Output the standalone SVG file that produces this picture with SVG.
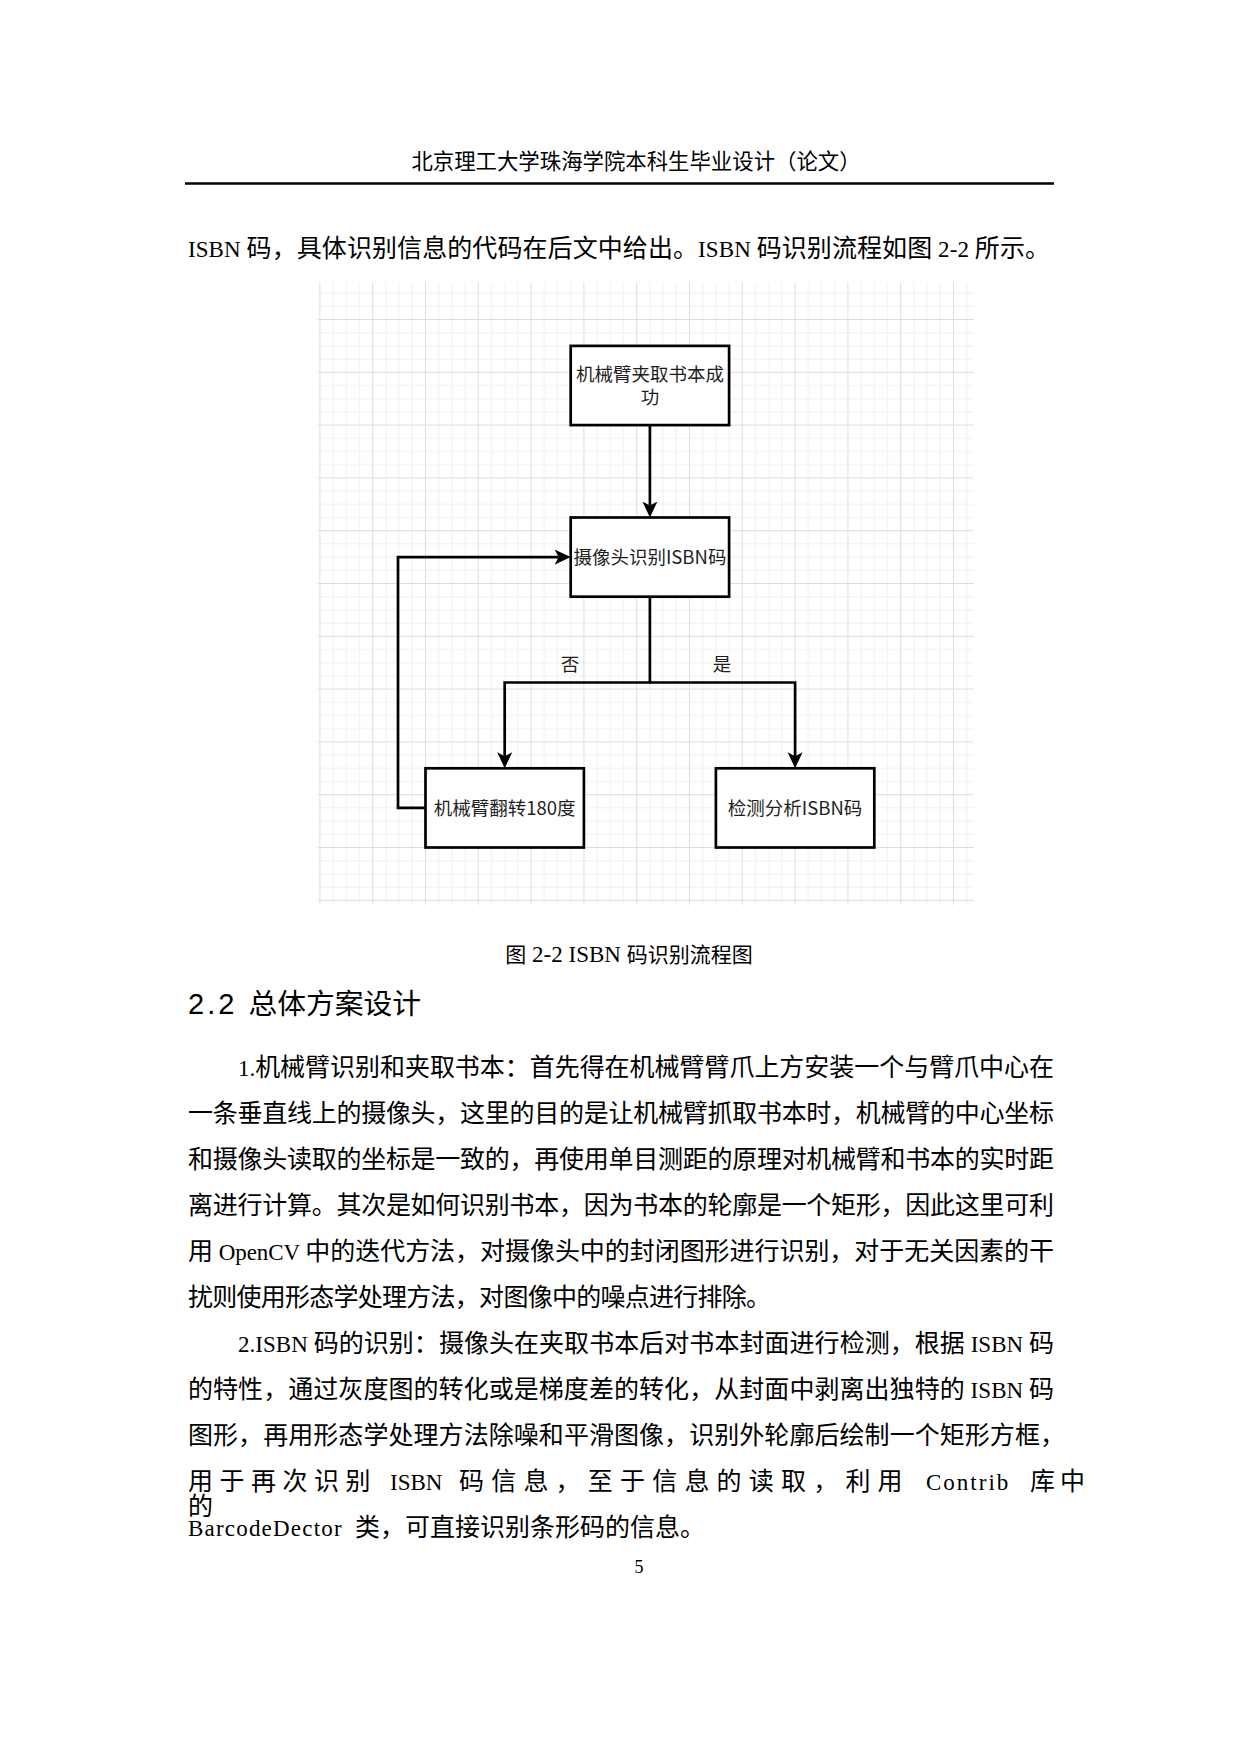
<svg xmlns="http://www.w3.org/2000/svg" width="1240" height="1754" viewBox="0 0 1240 1754">
<style>
.t{font-family:"Noto Sans CJK SC","Noto Sans",sans-serif;fill:#000}
.b{font-size:25px}
.lat{font-family:"Liberation Serif","Noto Sans CJK SC",serif;font-size:23px}
.box{fill:#fff;stroke:#000;stroke-width:2.7}
.nt{font-family:"Noto Sans CJK SC","Noto Sans",sans-serif;font-size:18.5px;fill:#1e1e1e;text-anchor:middle}
.edge{fill:none;stroke:#000;stroke-width:2.7;stroke-linejoin:miter}
</style>
<defs>
<pattern id="grid" patternUnits="userSpaceOnUse" x="372.2" y="319" width="52.8" height="52.8">
<path d="M13.7 0V52.8M26.9 0V52.8M40.1 0V52.8M0 13.7H52.8M0 26.9H52.8M0 40.1H52.8" stroke="#efefef" stroke-width="1" fill="none"/>
<path d="M0.5 0V52.8M0 0.5H52.8" stroke="#dddddd" stroke-width="1" fill="none"/>
</pattern>
<marker id="arr" viewBox="0 -8 16 16" refX="4" refY="0" markerWidth="16" markerHeight="16" markerUnits="userSpaceOnUse" orient="auto">
<path d="M0,-7.5 L16,0 L0,7.5 L4,0 Z" fill="#000"/>
</marker>
</defs>
<rect x="0" y="0" width="1240" height="1754" fill="#fff"/>

<g id="page-header">
<text class="t" x="636" y="169" font-size="21.4" text-anchor="middle">北京理工大学珠海学院本科生毕业设计（论文）</text>
<line x1="185" y1="183.5" x2="1054" y2="183.5" stroke="#000" stroke-width="2.5"/>
</g>

<text class="t b" x="188" y="256.5" textLength="862" lengthAdjust="spacing"><tspan class="lat">ISBN </tspan>码，具体识别信息的代码在后文中给出。<tspan class="lat">ISBN </tspan>码识别流程如图<tspan class="lat"> 2-2 </tspan>所示。</text>

<g id="figure">
<rect x="317.5" y="282.5" width="656" height="622.5" fill="url(#grid)"/>

<g id="connectors">
<path class="edge" d="M649.9 425.1V505.5" marker-end="url(#arr)"/>
<path class="edge" d="M649.9 596.7V682.5H504.7V756.3" marker-end="url(#arr)"/>
<path class="edge" d="M649.9 682.5H795.1V756.3" marker-end="url(#arr)"/>
<path class="edge" d="M425.5 807.9H398V557.1H558.7" marker-end="url(#arr)"/>
<text class="nt" x="570" y="671">否</text>
<text class="nt" x="722" y="671">是</text>
</g>

<g id="n1">
<rect class="box" x="570.7" y="345.9" width="158.4" height="79.2"/>
<text class="nt" x="649.9" y="381.4">机械臂夹取书本成</text>
<text class="nt" x="649.9" y="403.6">功</text>
</g>
<g id="n2">
<rect class="box" x="570.7" y="517.5" width="158.4" height="79.2"/>
<text class="nt" x="649.9" y="564.1">摄像头识别ISBN码</text>
</g>
<g id="n3">
<rect class="box" x="425.5" y="768.3" width="158.4" height="79.2"/>
<text class="nt" x="504.7" y="814.9">机械臂翻转180度</text>
</g>
<g id="n4">
<rect class="box" x="715.9" y="768.3" width="158.4" height="79.2"/>
<text class="nt" x="795.1" y="814.9">检测分析ISBN码</text>
</g>
</g>

<text class="t" x="629" y="962" font-size="21" text-anchor="middle">图<tspan class="lat" font-size="20"> 2-2 ISBN </tspan>码识别流程图</text>

<text class="t" x="188" y="1014.3" font-size="28.8"><tspan font-family="'Liberation Sans',sans-serif" font-size="29" letter-spacing="3">2.2 </tspan>总体方案设计</text>

<g id="body">
<text class="t b" x="238" y="1076" textLength="816" lengthAdjust="spacing"><tspan class="lat">1.</tspan>机械臂识别和夹取书本：首先得在机械臂臂爪上方安装一个与臂爪中心在</text>
<text class="t b" x="188" y="1122" textLength="866" lengthAdjust="spacing">一条垂直线上的摄像头，这里的目的是让机械臂抓取书本时，机械臂的中心坐标</text>
<text class="t b" x="188" y="1167.9" textLength="866" lengthAdjust="spacing">和摄像头读取的坐标是一致的，再使用单目测距的原理对机械臂和书本的实时距</text>
<text class="t b" x="188" y="1213.9" textLength="866" lengthAdjust="spacing">离进行计算。其次是如何识别书本，因为书本的轮廓是一个矩形，因此这里可利</text>
<text class="t b" x="188" y="1259.8" textLength="866" lengthAdjust="spacing">用<tspan class="lat"> OpenCV </tspan>中的迭代方法，对摄像头中的封闭图形进行识别，对于无关因素的干</text>
<text class="t b" x="188" y="1305.8" textLength="583" lengthAdjust="spacing">扰则使用形态学处理方法，对图像中的噪点进行排除。</text>
<text class="t b" x="238" y="1351.7" textLength="816" lengthAdjust="spacing"><tspan class="lat">2.ISBN </tspan>码的识别：摄像头在夹取书本后对书本封面进行检测，根据<tspan class="lat"> ISBN </tspan>码</text>
<text class="t b" x="188" y="1397.7" textLength="866" lengthAdjust="spacing">的特性，通过灰度图的转化或是梯度差的转化，从封面中剥离出独特的<tspan class="lat"> ISBN </tspan>码</text>
<text class="t b" x="188" y="1443.6" textLength="877" lengthAdjust="spacing">图形，再用形态学处理方法除噪和平滑图像，识别外轮廓后绘制一个矩形方框，</text>
<text class="t b" y="1489.6"><tspan x="188">用</tspan><tspan x="219.5">于</tspan><tspan x="251">再</tspan><tspan x="282.5">次</tspan><tspan x="314">识</tspan><tspan x="345.5">别</tspan><tspan class="lat" x="390">ISBN</tspan><tspan x="459">码</tspan><tspan x="491.2">信</tspan><tspan x="523.4">息</tspan><tspan x="555.6">，</tspan><tspan x="587.8">至</tspan><tspan x="620">于</tspan><tspan x="652.2">信</tspan><tspan x="684.4">息</tspan><tspan x="716.6">的</tspan><tspan x="748.8">读</tspan><tspan x="781">取</tspan><tspan x="813.2">，</tspan><tspan x="845.4">利</tspan><tspan x="877.6">用</tspan><tspan class="lat" x="926" letter-spacing="2">Contrib</tspan><tspan x="1030">库</tspan><tspan x="1060">中</tspan></text>
<text class="t b" x="188" y="1514.5">的</text>
<text class="t b" y="1535.5"><tspan class="lat" x="188" letter-spacing="1.2">BarcodeDector</tspan><tspan x="355">类，可直接识别条形码的信息。</tspan></text>
</g>

<text x="639" y="1573" font-family="'Liberation Serif',serif" font-size="18" text-anchor="middle" fill="#000">5</text>
</svg>
